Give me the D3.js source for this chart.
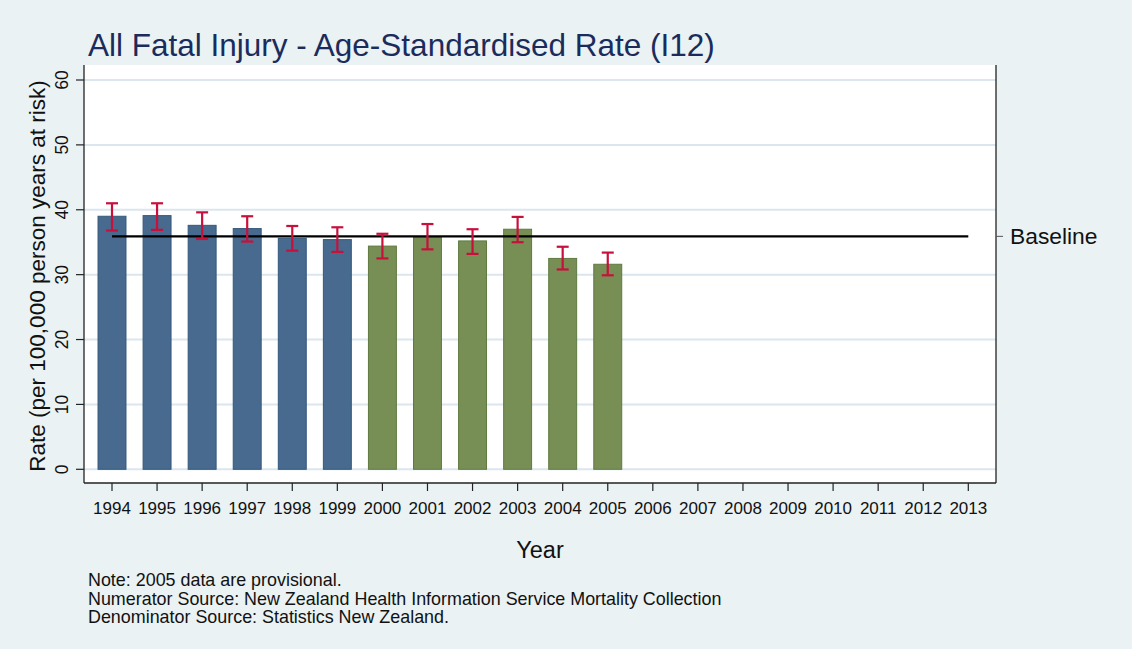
<!DOCTYPE html>
<html>
<head>
<meta charset="utf-8">
<script src="https://cdn.jsdelivr.net/npm/d3@7"></script>
<style>
  body { margin: 0; background: #eaf2f3; }
  svg { display: block; font-family: "Liberation Sans", Arial, sans-serif; }
</style>
</head>
<body>
<div id="chart"></div>
<script>
const years = [1994, 1995, 1996, 1997, 1998, 1999, 2000, 2001, 2002, 2003,
               2004, 2005, 2006, 2007, 2008, 2009, 2010, 2011, 2012, 2013];
const dataYears = [1994, 1995, 1996, 1997, 1998, 1999, 2000, 2001, 2002, 2003, 2004, 2005];
const rates = [39.0, 39.1, 37.6, 37.1, 35.6, 35.4, 34.4, 35.8, 35.2, 37.0, 32.5, 31.6];
const lower = [36.8, 36.9, 35.5, 35.1, 33.7, 33.5, 32.5, 33.9, 33.2, 35.0, 30.8, 29.9];
const upper = [41.0, 41.0, 39.6, 39.0, 37.5, 37.3, 36.3, 37.8, 37.0, 38.9, 34.3, 33.4];
const periods = ["base", "base", "base", "base", "base", "base",
                 "new", "new", "new", "new", "new", "new"];
const baselineValue = 35.9;
const yTicks = [0, 10, 20, 30, 40, 50, 60];
const notes = [
    "Note: 2005 data are provisional.",
    "Numerator Source: New Zealand Health Information Service Mortality Collection",
    "Denominator Source: Statistics New Zealand."
];

const width = 1132, height = 649;
const plot = { left: 84, right: 996, top: 65, bottom: 483 };
const colors = { base: "#476a8e", new: "#778f55" };
const strokes = { base: "#34587c", new: "#5f7a40" };

const svg = d3.select("#chart").append("svg")
    .attr("width", width)
    .attr("height", height);

svg.append("rect").attr("width", width).attr("height", height).attr("fill", "#eaf2f3");

svg.append("rect")
    .attr("x", plot.left).attr("y", plot.top)
    .attr("width", plot.right - plot.left).attr("height", plot.bottom - plot.top)
    .attr("fill", "#ffffff");

const x = d3.scalePoint().domain(years).range([112, 968.3]);
const y = d3.scaleLinear().domain([0, 60]).range([469.3, 80]);
const barW = x.step() * 0.62;

// gridlines
svg.append("g").selectAll("line")
    .data(yTicks)
    .enter().append("line")
    .attr("x1", plot.left).attr("x2", plot.right)
    .attr("y1", d => y(d)).attr("y2", d => y(d))
    .attr("stroke", "#dbe6ee").attr("stroke-width", 2);

// bars
const rows = dataYears.map((yr, i) => ({ year: yr, rate: rates[i], lo: lower[i], hi: upper[i], period: periods[i] }));

svg.append("g").selectAll("rect")
    .data(rows)
    .enter().append("rect")
    .attr("x", d => x(d.year) - barW / 2)
    .attr("y", d => y(d.rate))
    .attr("width", barW)
    .attr("height", d => y(0) - y(d.rate))
    .attr("fill", d => colors[d.period])
    .attr("stroke", d => strokes[d.period])
    .attr("stroke-width", 1);

// baseline
svg.append("line")
    .attr("x1", x(years[0])).attr("x2", x(years[years.length - 1]))
    .attr("y1", y(baselineValue)).attr("y2", y(baselineValue))
    .attr("stroke", "#000").attr("stroke-width", 2.4);

// error bars
const err = svg.append("g").attr("stroke", "#c8103c").attr("stroke-width", 2.2);
rows.forEach(d => {
    const cx = x(d.year);
    err.append("line").attr("x1", cx).attr("x2", cx).attr("y1", y(d.lo)).attr("y2", y(d.hi));
    err.append("line").attr("x1", cx - 6).attr("x2", cx + 6).attr("y1", y(d.lo)).attr("y2", y(d.lo));
    err.append("line").attr("x1", cx - 6).attr("x2", cx + 6).attr("y1", y(d.hi)).attr("y2", y(d.hi));
});

// axes lines
const axisColor = "#222";
svg.append("line").attr("x1", plot.left).attr("x2", plot.left).attr("y1", plot.top).attr("y2", plot.bottom)
    .attr("stroke", axisColor).attr("stroke-width", 1.3);
svg.append("line").attr("x1", plot.left).attr("x2", plot.right).attr("y1", plot.bottom).attr("y2", plot.bottom)
    .attr("stroke", axisColor).attr("stroke-width", 1.3);
svg.append("line").attr("x1", plot.right).attr("x2", plot.right).attr("y1", plot.top).attr("y2", plot.bottom)
    .attr("stroke", axisColor).attr("stroke-width", 1.3);

// y ticks
const yt = svg.append("g").selectAll("g").data(yTicks).enter().append("g");
yt.append("line")
    .attr("x1", plot.left - 8).attr("x2", plot.left)
    .attr("y1", d => y(d)).attr("y2", d => y(d))
    .attr("stroke", axisColor).attr("stroke-width", 1.2);
yt.append("text")
    .attr("transform", d => `translate(68, ${y(d)}) rotate(-90)`)
    .attr("text-anchor", "middle")
    .attr("font-size", 17.5)
    .attr("fill", "#111")
    .text(d => d);

// x ticks
const xt = svg.append("g").selectAll("g").data(years).enter().append("g");
xt.append("line")
    .attr("x1", d => x(d)).attr("x2", d => x(d))
    .attr("y1", plot.bottom).attr("y2", plot.bottom + 8)
    .attr("stroke", axisColor).attr("stroke-width", 1.2);
xt.append("text")
    .attr("x", d => x(d)).attr("y", 514)
    .attr("text-anchor", "middle")
    .attr("font-size", 17)
    .attr("fill", "#111")
    .text(d => d);

// right axis baseline label
svg.append("line")
    .attr("x1", plot.right).attr("x2", plot.right + 7)
    .attr("y1", y(baselineValue)).attr("y2", y(baselineValue))
    .attr("stroke", "#555").attr("stroke-width", 1);
svg.append("text")
    .attr("x", 1010).attr("y", y(baselineValue) + 8)
    .attr("font-size", 22.8)
    .attr("fill", "#111")
    .text("Baseline");

// titles
svg.append("text")
    .attr("x", 88).attr("y", 56)
    .attr("font-size", 31.5)
    .attr("fill", "#1b2c5c")
    .text("All Fatal Injury - Age-Standardised Rate (I12)");

svg.append("text")
    .attr("x", 540).attr("y", 558)
    .attr("text-anchor", "middle")
    .attr("font-size", 23.5)
    .attr("fill", "#111")
    .text("Year");

svg.append("text")
    .attr("transform", `translate(45, ${(plot.top + plot.bottom) / 2 + 2}) rotate(-90)`)
    .attr("text-anchor", "middle")
    .attr("font-size", 22.5)
    .attr("fill", "#111")
    .text("Rate (per 100,000 person years at risk)");

svg.append("g").selectAll("text")
    .data(notes)
    .enter().append("text")
    .attr("x", 88)
    .attr("y", (d, i) => 586 + i * 18.5)
    .attr("font-size", 17.9)
    .attr("fill", "#111")
    .text(d => d);
</script>
</body>
</html>
